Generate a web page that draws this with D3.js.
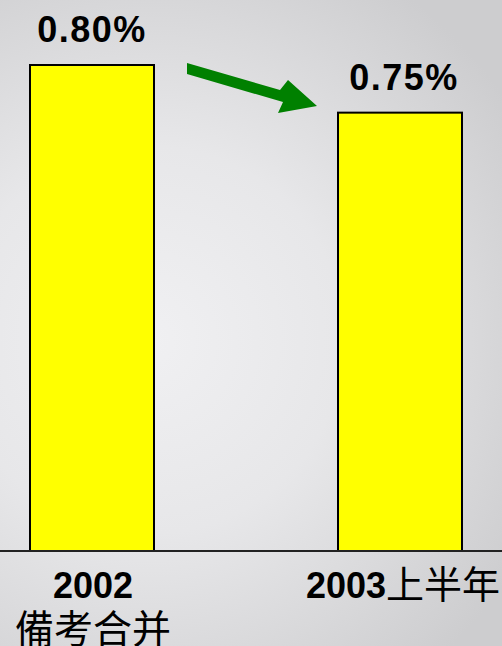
<!DOCTYPE html>
<html><head><meta charset="utf-8">
<script src="https://cdn.jsdelivr.net/npm/d3@7"></script>
<style>html,body{margin:0;padding:0;overflow:hidden;}svg{display:block;}</style>
</head><body>
<script>
const categories = ["2002", "2003"];
const categorySubLabels = ["備考合并", "上半年"];
const values = [0.80, 0.75];
const valueLabels = ["0.80%", "0.75%"];

const W = 502, H = 646;
const svg = d3.select("body").append("svg").attr("width", W).attr("height", H);
const defs = svg.append("defs");
const grad = defs.append("radialGradient").attr("id", "bg")
  .attr("gradientUnits", "userSpaceOnUse")
  .attr("cx", 150).attr("cy", 340).attr("r", 430);
grad.append("stop").attr("offset", "0%").attr("stop-color", "#f0f0f2");
grad.append("stop").attr("offset", "45%").attr("stop-color", "#e7e7e9");
grad.append("stop").attr("offset", "100%").attr("stop-color", "#cdcdcf");
svg.append("rect").attr("width", W).attr("height", H).attr("fill", "url(#bg)");

const x = d3.scaleBand().domain(categories).range([30, 462]).paddingInner(184 / 308).paddingOuter(0);
const y = d3.scaleLinear().domain([0.29, 0.80]).range([551, 65]);

svg.selectAll("rect.bar").data(values).join("rect").attr("class", "bar")
  .attr("x", (d, i) => x(categories[i]))
  .attr("y", d => y(d))
  .attr("width", x.bandwidth())
  .attr("height", d => y.range()[0] - y(d))
  .attr("fill", "#ffff00").attr("stroke", "#000").attr("stroke-width", 2);

svg.append("line").attr("x1", 0).attr("x2", W).attr("y1", 551).attr("y2", 551)
  .attr("stroke", "#222").attr("stroke-width", 2);

const font = "Arial, 'Liberation Sans', sans-serif";
const cjk = "'Noto Sans CJK SC', sans-serif";
svg.selectAll("text.val").data(values).join("text").attr("class", "val")
  .attr("x", (d, i) => x(categories[i]) + x.bandwidth() / 2 + (i ? 4 : 0))
  .attr("y", d => y(d) - 23)
  .attr("text-anchor", "middle").attr("font-family", font)
  .attr("font-weight", "bold").attr("font-size", 36).attr("letter-spacing", 1.5).attr("fill", "#000")
  .text((d, i) => valueLabels[i]);

// x labels
const cx0 = x(categories[0]) + x.bandwidth() / 2;
svg.append("text").attr("x", cx0 + 1).attr("y", 598).attr("text-anchor", "middle")
  .attr("font-family", font).attr("font-weight", "bold").attr("font-size", 36).text(categories[0]);
svg.append("text").attr("x", cx0 + 1).attr("y", 643).attr("text-anchor", "middle")
  .attr("font-family", cjk).attr("font-size", 39).text(categorySubLabels[0]);
const cx1 = x(categories[1]) + x.bandwidth() / 2;
const t2 = svg.append("text").attr("x", cx1 + 3).attr("y", 598).attr("text-anchor", "middle")
  .attr("font-family", font).attr("font-size", 36);
t2.append("tspan").attr("font-weight", "bold").text(categories[1]);
t2.append("tspan").attr("font-family", cjk).attr("font-size", 38).text(categorySubLabels[1]);

// green arrow
const arrow = [[187,63],[280,90],[288,80],[317,106],[278,113],[283,102],[187,74]];
svg.append("path").attr("d", d3.line()(arrow) + "Z").attr("fill", "#008000");
</script>
</body></html>
